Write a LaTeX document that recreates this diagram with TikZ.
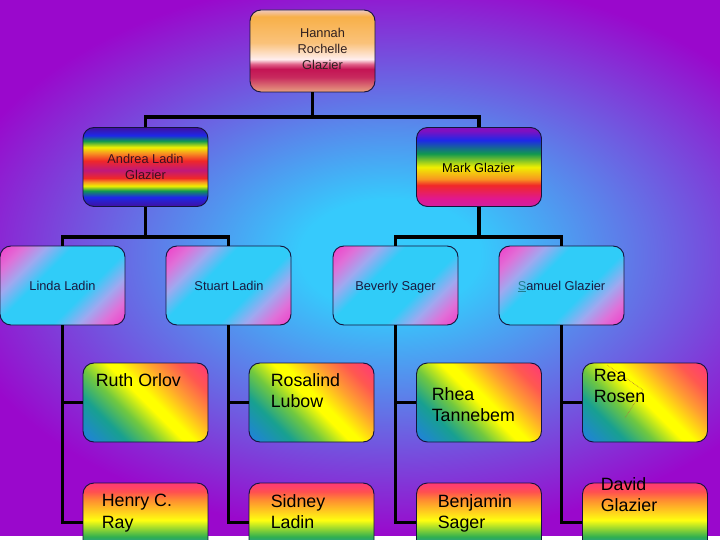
\documentclass[tikz,border=0pt]{standalone}
\usepackage{fontspec}
\setmainfont{Liberation Sans}
% colours
\definecolor{bgc}{HTML}{36CAFC}
\definecolor{bgp}{HTML}{9A08CC}
\definecolor{edge}{HTML}{14143C}
% Hannah
\definecolor{hA}{HTML}{E8A080}\definecolor{hB}{HTML}{C82A5E}\definecolor{hC}{HTML}{C41454}
\definecolor{hD}{HTML}{E06088}\definecolor{hE}{HTML}{FFEEEE}\definecolor{hF}{HTML}{FAC27A}
\definecolor{hG}{HTML}{F8B048}\definecolor{hH}{HTML}{F0C8C0}
% rainbow
\definecolor{rPu}{HTML}{4010A0}\definecolor{rBl}{HTML}{1E28E8}\definecolor{rGr}{HTML}{109850}
\definecolor{rYe}{HTML}{F0F000}\definecolor{rOr}{HTML}{F89820}\definecolor{rRd}{HTML}{F02828}
\definecolor{rMg}{HTML}{C0187A}
\definecolor{mPu}{HTML}{8010C0}\definecolor{mPk}{HTML}{E01890}\definecolor{mPk2}{HTML}{D020A0}
% pink / cyan
\definecolor{pk}{HTML}{F040C8}\definecolor{pl}{HTML}{E070D8}\definecolor{lav}{HTML}{A0A8F0}
\definecolor{cy}{HTML}{30CCF8}
% blue -> red
\definecolor{bl}{HTML}{2080E0}\definecolor{tl}{HTML}{18A090}\definecolor{gr}{HTML}{70C840}
\definecolor{ye}{HTML}{FFFF00}\definecolor{orr}{HTML}{FFA030}\definecolor{rd}{HTML}{FF5850}
\definecolor{rp}{HTML}{FF3878}\definecolor{bp}{HTML}{8030C0}\definecolor{bg}{HTML}{30B050}
\definecolor{by}{HTML}{FFFF10}\definecolor{bo}{HTML}{FF9030}\definecolor{br}{HTML}{FF5050}
% text
\definecolor{tHan}{HTML}{302020}\definecolor{tAnd}{HTML}{3A1020}\definecolor{tNav}{HTML}{1A1A40}
\definecolor{sq}{HTML}{208090}\definecolor{dotc}{HTML}{B07040}

\pgfdeclareradialshading{bgrad}{\pgfpoint{0bp}{0bp}}{color(0bp)=(bgc); color(5bp)=(bgc); color(25bp)=(bgp); color(50bp)=(bgp)}
\pgfdeclareverticalshading{hannahsh}{100bp}{color(0bp)=(hA); color(25bp)=(hA); color(34bp)=(hB); color(39bp)=(hC); color(42bp)=(hD); color(45bp)=(hE); color(55bp)=(hF); color(71bp)=(hG); color(75bp)=(hH); color(100bp)=(hH)}
\pgfdeclareverticalshading{andreash}{100bp}{color(0bp)=(rPu); color(25bp)=(rPu); color(31bp)=(rBl); color(35bp)=(rGr); color(38bp)=(rYe); color(40.5bp)=(rOr); color(43bp)=(rRd); color(48bp)=(rMg); color(54bp)=(rRd); color(59bp)=(rOr); color(62.5bp)=(rYe); color(66.5bp)=(rGr); color(70bp)=(rBl); color(75bp)=(rPu); color(100bp)=(rPu)}
\pgfdeclareverticalshading{marksh}{100bp}{color(0bp)=(mPk2); color(25bp)=(mPk2); color(30bp)=(mPk); color(38.5bp)=(rRd); color(42.5bp)=(rOr); color(50bp)=(rYe); color(58.5bp)=(rGr); color(67bp)=(rBl); color(73bp)=(mPu); color(100bp)=(mPu)}
\pgfdeclarehorizontalshading{pinkcyan}{100bp}{color(0bp)=(pk); color(15bp)=(pk); color(23bp)=(pl); color(31bp)=(lav); color(40bp)=(cy); color(60bp)=(cy); color(69bp)=(lav); color(77bp)=(pl); color(85bp)=(pk); color(100bp)=(pk)}
\pgfdeclarehorizontalshading{bluered}{100bp}{color(0bp)=(bl); color(15bp)=(bl); color(30bp)=(tl); color(40bp)=(gr); color(50bp)=(ye); color(54bp)=(ye); color(65bp)=(orr); color(75bp)=(rd); color(85bp)=(rp); color(100bp)=(rp)}
\pgfdeclareverticalshading{rainbowlow}{100bp}{color(0bp)=(bp); color(25bp)=(bp); color(32.5bp)=(bl); color(41bp)=(bg); color(51.5bp)=(by); color(64bp)=(bo); color(69.5bp)=(br); color(75bp)=(rp); color(100bp)=(rp)}

\begin{document}
\begin{tikzpicture}[x=1pt,y=-1pt,
  box/.style={draw=edge, line width=0.9pt, rounded corners=11pt, minimum width=125pt, minimum height=79pt, inner sep=0pt, shade},
  conn/.style={line width=3.6pt, draw=black},
  small/.style={font=\fontsize{12.8}{16}\selectfont, align=center, inner sep=0pt},
  one/.style={font=\fontsize{12.8}{16}\selectfont, inner sep=0pt, anchor=base},
  big/.style={font=\fontsize{17.8}{21.5}\selectfont, align=left, inner sep=0pt, anchor=north west, text=black}]
\useasboundingbox (0,0) rectangle (720,540);
\clip (0,0) rectangle (720,540);
\shade[shading=bgrad] (-60,-25) rectangle (840,535);

% boxes
\node[box, minimum height=82pt, shading=hannahsh] (hannah) at (312.5,51) {};
\node[box, shading=andreash] (andrea) at (145.5,167) {};
\node[box, shading=marksh] (mark) at (479,167) {};
\node[box, shading=pinkcyan, shading angle=-45] (linda) at (62.5,285.5) {};
\node[box, shading=pinkcyan, shading angle=-45] (stuart) at (228.5,285.5) {};
\node[box, shading=pinkcyan, shading angle=-45] (beverly) at (395.5,285.5) {};
\node[box, shading=pinkcyan, shading angle=-45] (samuel) at (561.5,285.5) {};
\node[box, shading=bluered, shading angle=45] (ruth) at (145.5,402.5) {};
\node[box, shading=bluered, shading angle=45] (rosalind) at (311.5,402.5) {};
\node[box, shading=bluered, shading angle=45] (rhea) at (479,402.5) {};
\node[box, shading=bluered, shading angle=45] (rea) at (645,402.5) {};
\node[box, shading=rainbowlow] (henry) at (145.5,522.5) {};
\node[box, shading=rainbowlow] (sidney) at (311.5,522.5) {};
\node[box, shading=rainbowlow] (benjamin) at (479,522.5) {};
\node[box, shading=rainbowlow] (david) at (645,522.5) {};

% connectors
\coordinate (j0) at (312.5,117);
\coordinate (j1) at (145.5,237);
\coordinate (j2) at (479,237);
\draw[conn] (hannah.south) -- (j0);
\draw[conn] (andrea.north) |- (j0) -| (mark.north);
\draw[conn] (andrea.south) -- (j1);
\draw[conn] (linda.north) |- (j1) -| (stuart.north);
\draw[conn] (mark.south) -- (j2);
\draw[conn] (beverly.north) |- (j2) -| (samuel.north);
\draw[conn] (linda.south) |- (ruth.west);
\draw[conn] (linda.south) |- (henry.west);
\draw[conn] (stuart.south) |- (rosalind.west);
\draw[conn] (stuart.south) |- (sidney.west);
\draw[conn] (beverly.south) |- (rhea.west);
\draw[conn] (beverly.south) |- (benjamin.west);
\draw[conn] (samuel.south) |- (rea.west);
\draw[conn] (samuel.south) |- (david.west);

% faint dotted marks in the Rea Rosen box
\draw[dotc, densely dotted, line width=0.6pt] (607,365) -- (643,390) -- (625,418);

% labels
\node[small, text=tHan] (t-hannah) at (322.5,49) {Hannah\\Rochelle\\Glazier};
\node[small, text=tAnd] (t-andrea) at (145.5,167) {Andrea Ladin\\Glazier};
\node[one, text=black] (t-mark) at (478.5,173) {Mark Glazier};
\node[one, text=tNav] (t-linda) at (62.5,290) {Linda Ladin};
\node[one, text=tNav] (t-stuart) at (229,290) {Stuart Ladin};
\node[one, text=tNav] (t-beverly) at (395.5,290) {Beverly Sager};
\node[one, text=tNav] (t-samuel) at (561.5,290) {{\color{sq}\underline{S}}amuel Glazier};

\node[big] (t-ruth) at (95.6,373) {Ruth Orlov};
\node[big] (t-rosalind) at (270.6,373) {Rosalind\\Lubow};
\node[big] (t-rhea) at (431.6,387) {Rhea\\Tannebem};
\node[big] (t-rea) at (593.6,369) {Rea\\Rosen};
\node[big] (t-henry) at (101.6,494) {Henry C.\\Ray};
\node[big] (t-sidney) at (270.6,494) {Sidney\\Ladin};
\node[big] (t-benjamin) at (437.6,494) {Benjamin\\Sager};
\node[big] (t-david) at (600.6,477) {David\\Glazier};
\end{tikzpicture}
\end{document}
